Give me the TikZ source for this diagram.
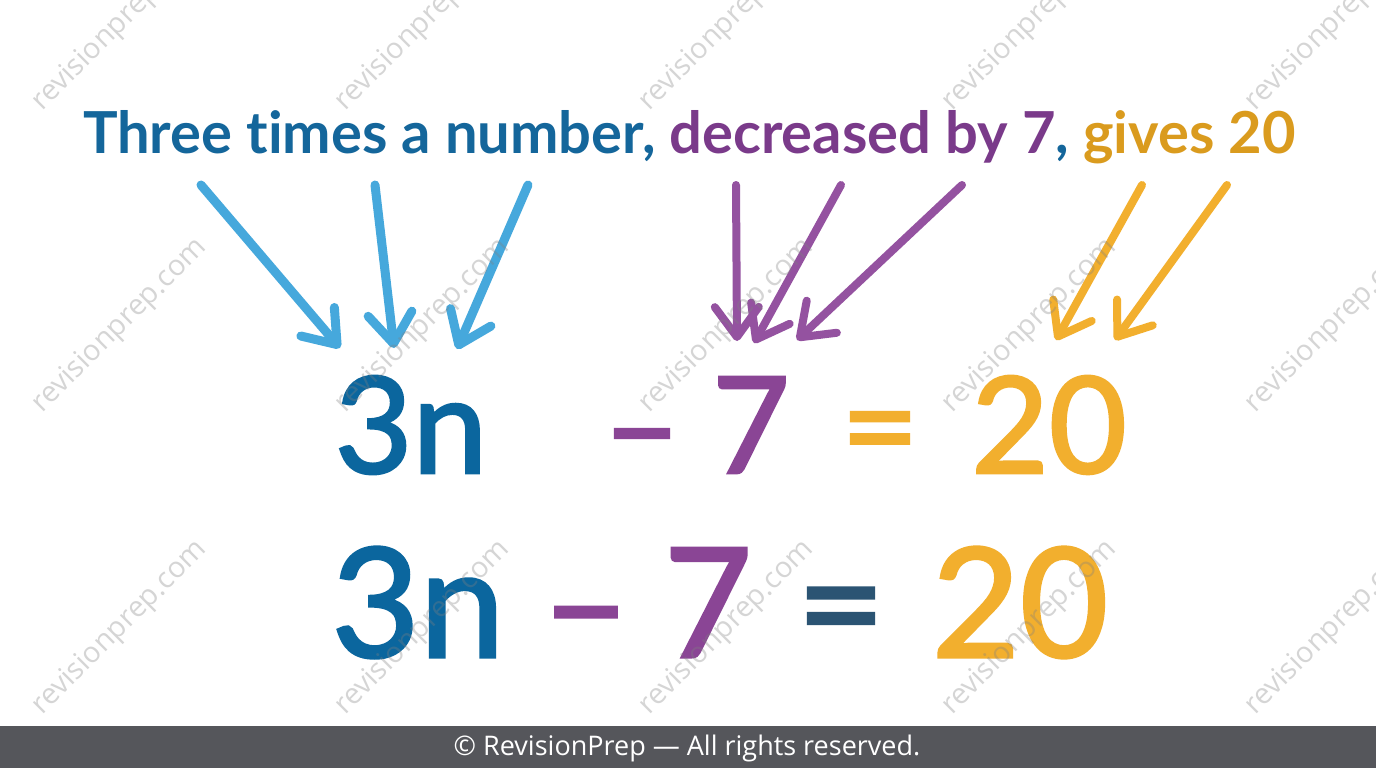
\documentclass[tikz,border=0pt]{standalone}
\usepackage{fontspec}
\setmainfont{Lato}[Ligatures={TeX,NoCommon}]
\newfontfamily\wmfont{Open Sans}
\newfontfamily\eqfont{Lato}[FakeBold=2]
\usetikzlibrary{arrows.meta}
\definecolor{tblue}{HTML}{14669B}
\definecolor{tpurple}{HTML}{7A3A8A}
\definecolor{torange}{HTML}{DA9B1E}
\definecolor{eqblue}{HTML}{0B669E}
\definecolor{eqpurple}{HTML}{8A4595}
\definecolor{eqorange}{HTML}{F2AF2E}
\definecolor{eqslate}{HTML}{2B5473}
\definecolor{arrblue}{HTML}{46A8DC}
\definecolor{arrpurple}{HTML}{9452A0}
\definecolor{arrorange}{HTML}{F2AF2E}
\definecolor{footbg}{HTML}{55565B}
\begin{document}
\begin{tikzpicture}[x=1pt,y=-1pt,
  every node/.style={inner sep=0pt,outer sep=0pt},
  arr/.style={line width=#1,line cap=round,-{Straight Barb[length=30pt,width=44pt,round]}},
  eqone/.style={anchor=base,font=\eqfont\fontsize{134}{134}\selectfont},
  eqtwo/.style={anchor=base,font=\eqfont\fontsize{152}{152}\selectfont},
  wm/.style={rotate=45,text=black!50,opacity=0.33}]
\useasboundingbox (0,0) rectangle (1376,768);
\clip (0,0) rectangle (1376,768);
\fill[white] (0,0) rectangle (1376,768);
% title
\node[anchor=base west] (title) at (83,153) {\resizebox{1212pt}{!}{\bfseries\color{tblue}Three times a number, \color{tpurple}decreased by 7\color{tblue}, \color{torange}gives 20}};
% first equation
\node[eqone,text=eqblue] (a3n) at (411,473) {3n};
\node[eqone,text=eqpurple] (aminus) at (642,473) {–};
\node[eqone,text=eqpurple] (a7) at (751,473) {7};
\node[eqone,text=eqorange] (aeq) at (880,473) {=};
\node[eqone,text=eqorange] (a20) at (1049,473) {20};
% second equation
\node[eqtwo,text=eqblue] (b3n) at (418,657) {3n};
\node[eqtwo,text=eqpurple] (bminus) at (586,657) {–};
\node[eqtwo,text=eqpurple] (b7) at (708,657) {7};
\node[eqtwo,text=eqslate] (beq) at (841,657) {=};
\node[eqtwo,text=eqorange] (b20) at (1020,657) {20};
% arrow end points
\coordinate (b1s) at (201,185); \coordinate (b1e) at (340,348);
\coordinate (b2s) at (375,185); \coordinate (b2e) at (394,348);
\coordinate (b3s) at (528,185); \coordinate (b3e) at (457,349);
\coordinate (p1s) at (736,185); \coordinate (p1e) at (737,341);
\coordinate (p2s) at (841,185); \coordinate (p2e) at (754,343);
\coordinate (p3s) at (962,185); \coordinate (p3e) at (797,340);
\coordinate (o1s) at (1142,185); \coordinate (o1e) at (1056,340);
\coordinate (o2s) at (1227,185); \coordinate (o2e) at (1115,340);
\draw[arr=9pt,arrblue] (b1s) -- (b1e);
\draw[arr=9pt,arrblue] (b2s) -- (b2e);
\draw[arr=9pt,arrblue] (b3s) -- (b3e);
\draw[arr=8pt,arrpurple] (p1s) -- (p1e);
\draw[arr=8pt,arrpurple] (p2s) -- (p2e);
\draw[arr=8pt,arrpurple] (p3s) -- (p3e);
\draw[arr=8pt,arrorange] (o1s) -- (o1e);
\draw[arr=8pt,arrorange] (o2s) -- (o2e);
% watermarks
\foreach \wx [count=\i] in {120,423,727,1030,1333}{
  \foreach \wy [count=\j] in {24,326,628}{
    \node[wm] (wm-\i-\j) at (\wx,\wy) {\resizebox{233pt}{!}{\wmfont revisionprep.com}};
  }
}
% footer
\fill[footbg] (0,726) rectangle (1376,768);
\node[text=white,font=\wmfont\fontsize{27}{27}\selectfont] (foot) at (687,748) {© RevisionPrep — All rights reserved.};
\end{tikzpicture}
\end{document}
